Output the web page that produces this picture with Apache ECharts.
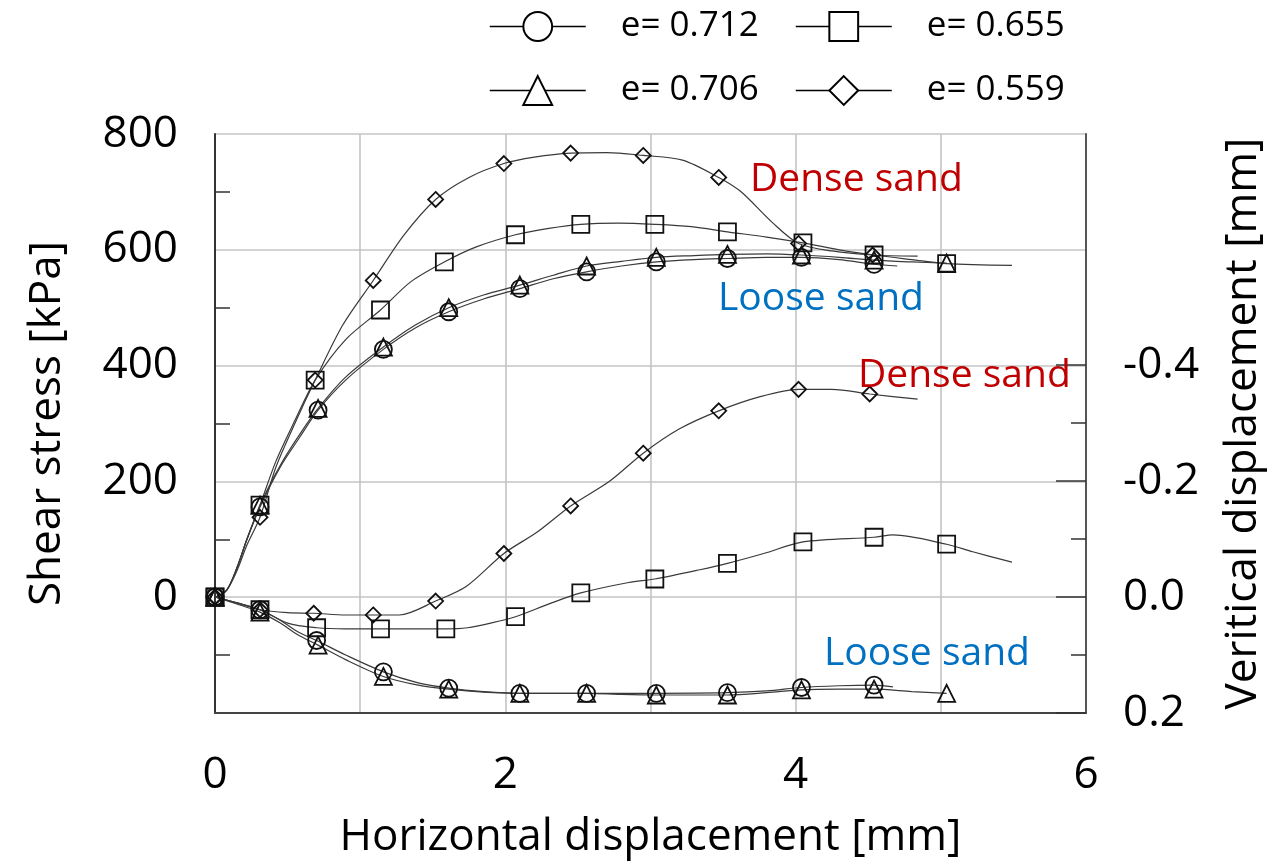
<!DOCTYPE html>
<html>
<head>
<meta charset="utf-8">
<script src="https://cdn.jsdelivr.net/npm/echarts@6.0.0/dist/echarts.min.js"></script>
<style>
    html, body { margin: 0; padding: 0; background: #fff; }
    #chart-shear { width: 1284px; height: 865px; }
</style>
</head>
<body>
<div id="chart-shear"></div>
<script>
// x = horizontal displacement [mm]; shear in kPa; vertical in mm (down positive)
var xTicks = [0, 2, 4, 6];
var leftTicks = [0, 200, 400, 600, 800];
var rightTicks = [-0.4, -0.2, 0.0, 0.2];

// e = 0.712 (circle)
var circleShearMarks = [[0, 0], [0.31, 156], [0.71, 323], [1.16, 428], [1.61, 493], [2.10, 533], [2.56, 562], [3.04, 579], [3.53, 585], [4.04, 587], [4.54, 575]];
var circleShearLine = [[0.08, 12], [0.15, 50], [0.22, 100], [0.45, 225], [0.58, 275], [0.9, 375], [1.38, 465], [1.85, 515], [2.33, 550], [2.8, 572], [3.3, 583], [3.8, 587], [4.3, 583], [4.7, 572]];
var circleVertMarks = [[0, 0], [0.31, 0.022], [0.70, 0.075], [1.16, 0.129], [1.61, 0.157], [2.10, 0.166], [2.56, 0.166], [3.04, 0.166], [3.53, 0.165], [4.04, 0.156], [4.54, 0.152]];
var circleVertLine = [[0.15, 0.01], [0.45, 0.04], [0.57, 0.06], [0.9, 0.1], [1.4, 0.148], [1.85, 0.163], [2.8, 0.166], [3.8, 0.162], [4.3, 0.153], [4.67, 0.155]];

// e = 0.706 (triangle)
var triShearMarks = [[0, 0], [0.31, 159], [0.71, 326], [1.16, 432], [1.61, 500], [2.10, 539], [2.56, 572], [3.04, 587], [3.53, 592], [4.04, 591], [4.54, 582], [5.04, 577]];
var triShearLine = [[0.08, 12], [0.15, 50], [0.22, 100], [0.45, 228], [0.58, 280], [0.9, 380], [1.38, 470], [1.85, 522], [2.33, 556], [2.8, 580], [3.3, 590], [3.8, 593], [4.3, 587], [4.8, 579]];
var triVertMarks = [[0, 0], [0.31, 0.026], [0.71, 0.083], [1.16, 0.137], [1.61, 0.159], [2.10, 0.166], [2.56, 0.166], [3.04, 0.169], [3.53, 0.169], [4.04, 0.160], [4.54, 0.159], [5.04, 0.166]];
var triVertLine = [[0.15, 0.012], [0.45, 0.045], [0.57, 0.065], [0.9, 0.108], [1.4, 0.152], [1.85, 0.164], [2.8, 0.168], [3.8, 0.165], [4.3, 0.159], [4.8, 0.163]];

// e = 0.655 (square)
var squareShearMarks = [[0, 0], [0.31, 159], [0.69, 375], [1.14, 496], [1.58, 579], [2.07, 626], [2.52, 644], [3.03, 644], [3.53, 631], [4.05, 612], [4.54, 591], [5.04, 576]];
var squareShearLine = [[0.08, 12], [0.15, 50], [0.22, 100], [0.42, 235], [0.55, 305], [0.9, 445], [1.35, 545], [1.8, 605], [2.3, 637], [2.78, 646], [3.28, 640], [3.8, 622], [4.3, 600], [4.8, 583], [5.49, 573]];
var squareVertMarks = [[0, 0], [0.31, 0.022], [0.70, 0.053], [1.14, 0.055], [1.59, 0.055], [2.07, 0.034], [2.52, -0.007], [3.03, -0.031], [3.53, -0.058], [4.05, -0.095], [4.54, -0.103], [5.04, -0.091]];
var squareVertLine = [[0.15, 0.01], [0.5, 0.045], [0.9, 0.055], [1.74, 0.053], [1.9, 0.045], [2.31, 0.011], [2.85, -0.025], [3.34, -0.047], [3.78, -0.075], [4.67, -0.107], [5.22, -0.078], [5.49, -0.060]];

// e = 0.559 (diamond)
var diamondShearMarks = [[0, 0], [0.31, 138], [0.69, 375], [1.09, 547], [1.52, 687], [1.99, 749], [2.45, 767], [2.95, 763], [3.47, 725], [4.02, 611], [4.53, 591]];
var diamondShearLine = [[0.08, 12], [0.15, 45], [0.22, 90], [0.42, 225], [0.55, 300], [0.88, 470], [1.3, 625], [1.75, 725], [2.2, 760], [2.7, 768], [3.22, 755], [3.62, 701], [3.84, 647], [4.25, 598], [4.84, 589]];
var diamondVertMarks = [[0, 0], [0.31, 0.022], [0.68, 0.028], [1.09, 0.031], [1.52, 0.007], [1.99, -0.075], [2.45, -0.157], [2.95, -0.248], [3.47, -0.321], [4.02, -0.358], [4.51, -0.350]];
var diamondVertLine = [[0.15, 0.01], [0.5, 0.027], [0.9, 0.031], [1.27, 0.031], [1.73, -0.018], [2.22, -0.112], [2.72, -0.200], [3.2, -0.29], [3.75, -0.345], [4.25, -0.358], [4.84, -0.341]];

var FONT = "'Open Sans', 'Noto Sans', sans-serif";

$ready();

function $ready() {
    var chartDom = document.getElementById('chart-shear');
    var myChart = echarts.init(chartDom, null, { renderer: 'canvas' });

    var series = [
        makeSeries('e= 0.712', 'circle', 17, circleShearLine, circleShearMarks, 0, 0),
        makeSeries('e= 0.655', 'rect', 17, squareShearLine, squareShearMarks, 0, 0),
        makeSeries('e= 0.706', 'triangle', 17, triShearLine, triShearMarks, 0, 0),
        makeSeries('e= 0.559', 'diamond', 15, diamondShearLine, diamondShearMarks, 0, 0),
        makeSeries('e= 0.712', 'circle', 17, circleVertLine, circleVertMarks, 1, 2),
        makeSeries('e= 0.655', 'rect', 17, squareVertLine, squareVertMarks, 1, 2),
        makeSeries('e= 0.706', 'triangle', 17, triVertLine, triVertMarks, 1, 2),
        makeSeries('e= 0.559', 'diamond', 15, diamondVertLine, diamondVertMarks, 1, 2)
    ];

    var legendBase = {
        orient: 'vertical',
        top: 4,
        itemWidth: 96,
        itemHeight: 36,
        itemGap: 29,
        selectedMode: false,
        itemStyle: { color: '#fff', borderColor: '#000', borderWidth: 2 },
        lineStyle: { color: '#000', width: 1.5 },
        textStyle: { fontFamily: FONT, fontSize: 35, color: '#000', padding: [0, 0, 0, 30] }
    };

    var option = {
        animation: false,
        backgroundColor: '#fff',
        legend: [
            Object.assign({}, legendBase, { left: 484, data: ['e= 0.712', 'e= 0.706'] }),
            Object.assign({}, legendBase, { left: 790, data: ['e= 0.655', 'e= 0.559'] })
        ],
        grid: [
            { left: 215, right: 198, top: 134, bottom: 152, outerBoundsMode: 'none' },
            { left: 215, right: 198, top: 365, bottom: 152, outerBoundsMode: 'none' }
        ],
        xAxis: [
            {
                type: 'value', gridIndex: 0, position: 'bottom', min: 0, max: 6, interval: 1,
                name: 'Horizontal displacement [mm]', nameLocation: 'middle', nameGap: 102,
                nameTextStyle: { fontFamily: FONT, fontSize: 44, color: '#000' },
                axisLine: { show: true, onZero: false, lineStyle: { color: '#444', width: 2 } },
                axisTick: { show: false },
                axisLabel: {
                    margin: 40, fontFamily: FONT, fontSize: 44, color: '#000',
                    formatter: v => xTicks.indexOf(v) >= 0 ? String(v) : ''
                },
                splitLine: { show: true, lineStyle: { color: '#c4c4c4', width: 1.6 } }
            },
            {
                type: 'value', gridIndex: 1, position: 'bottom', min: 0, max: 6, show: false,
                axisLine: { onZero: false }
            }
        ],
        yAxis: [
            {
                type: 'value', gridIndex: 0, position: 'left', min: -200, max: 800, interval: 200,
                name: 'Shear stress [kPa]', nameLocation: 'middle', nameGap: 146, nameRotate: 90,
                nameTextStyle: { fontFamily: FONT, fontSize: 44, color: '#000' },
                axisLine: { show: true, onZero: false, lineStyle: { color: '#333', width: 2 } },
                axisTick: { show: false, inside: true },
                minorTick: { show: true, splitNumber: 2, length: 15, lineStyle: { color: '#333', width: 1.5 } },
                axisLabel: {
                    margin: 37, fontFamily: FONT, fontSize: 44, color: '#000',
                    formatter: v => leftTicks.indexOf(v) >= 0 ? String(v) : ''
                },
                splitLine: { show: true, lineStyle: { color: '#c4c4c4', width: 1.6 } }
            },
            {
                type: 'value', gridIndex: 0, position: 'right', min: -200, max: 800, interval: 200,
                name: 'Veritical displacement [mm]', nameLocation: 'middle', nameGap: 135, nameRotate: 90,
                nameTextStyle: { fontFamily: FONT, fontSize: 44, color: '#000' },
                axisLine: { show: true, onZero: false, lineStyle: { color: '#555', width: 2 } },
                axisTick: { show: false },
                axisLabel: { show: false },
                splitLine: { show: false }
            },
            {
                type: 'value', gridIndex: 1, position: 'right', min: -0.4, max: 0.2, interval: 0.2, inverse: true,
                axisLine: { show: false, onZero: false },
                axisTick: { show: true, inside: true, length: 30, lineStyle: { color: '#333', width: 1.5 } },
                minorTick: { show: true, splitNumber: 2, length: 15, lineStyle: { color: '#333', width: 1.5 } },
                axisLabel: {
                    margin: 37, fontFamily: FONT, fontSize: 44, color: '#000',
                    formatter: v => {
                        var hit = rightTicks.filter(t => Math.abs(t - v) < 1e-6);
                        return hit.length ? hit[0].toFixed(1) : '';
                    }
                },
                splitLine: { show: false }
            }
        ],
        graphic: [
            annot('Dense sand', 750, 180, '#c00000'),
            annot('Loose sand', 718, 299, '#0070c0'),
            annot('Dense sand', 858, 376, '#c00000'),
            annot('Loose sand', 824, 654, '#0070c0')
        ],
        series: series
    };

    myChart.setOption(option);
}

function makeSeries(name, symbol, size, line, marks, xIdx, yIdx) {
    var pts = line.map(p => ({ value: p, symbol: 'none' }))
        .concat(marks.map(p => ({ value: p })));
    pts.sort((a, b) => a.value[0] - b.value[0]);
    return {
        name: name,
        type: 'line',
        xAxisIndex: xIdx,
        yAxisIndex: yIdx,
        symbol: symbol,
        symbolSize: size,
        showAllSymbol: true,
        smooth: 0.3,
        clip: false,
        data: pts,
        lineStyle: { color: '#3a3a3a', width: 1.2 },
        itemStyle: { color: 'rgba(0,0,0,0)', borderColor: '#111', borderWidth: 1.8 },
        emphasis: { disabled: true }
    };
}

function annot(text, x, y, color) {
    return {
        type: 'text',
        x: x,
        y: y,
        z: 100,
        style: {
            text: text,
            fill: color,
            font: "39px " + FONT,
            align: 'left',
            verticalAlign: 'middle'
        }
    };
}
</script>
</body>
</html>
